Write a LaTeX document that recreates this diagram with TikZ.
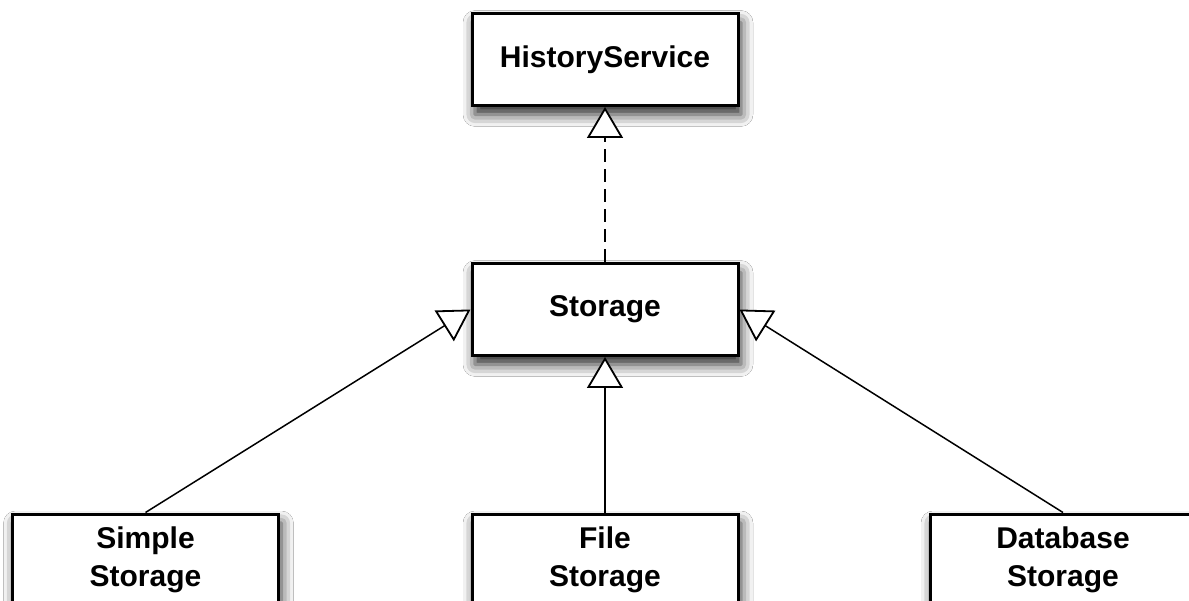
\documentclass[tikz,border=0pt]{standalone}
\usepackage{fontspec}
\setmainfont{Liberation Sans}
\usetikzlibrary{arrows.meta,shadows.blur}
\begin{document}
\begin{tikzpicture}[x=1pt,y=-1pt,
  cls/.style={draw=black, line width=3pt, fill=white, minimum width=266pt, minimum height=92pt,
    align=center, font=\fontsize{30}{38}\selectfont\bfseries, inner sep=0pt,
    blur shadow={shadow xshift=3pt, shadow yshift=-9pt, shadow blur radius=12pt, shadow opacity=85}},
  inh/.style={line width=1.5pt, -{Triangle[length=31pt, width=36pt, fill=white, line width=1.8pt]}},
  real/.style={line width=2pt, dash pattern=on 13pt off 7pt, -{Triangle[length=31pt, width=36pt, fill=white, line width=1.8pt]}}]
\useasboundingbox (0,0) rectangle (1189,601);
\fill[white] (0,0) rectangle (1189,601);
\node[cls] (hs) at (605,59.5) {HistoryService};
\node[cls] (st) at (605,309.5) {Storage};
\node[cls] (ss) at (145.5,560) {Simple\\Storage};
\node[cls] (fs) at (605,560) {File\\Storage};
\node[cls] (ds) at (1063,560) {Database\\Storage};
\draw[real] (st.north) -- (hs.south);
\draw[inh] (fs.north) -- (st.south);
\draw[inh] (ss.north) -- (st.west);
\draw[inh] (ds.north) -- (st.east);
\end{tikzpicture}
\end{document}
